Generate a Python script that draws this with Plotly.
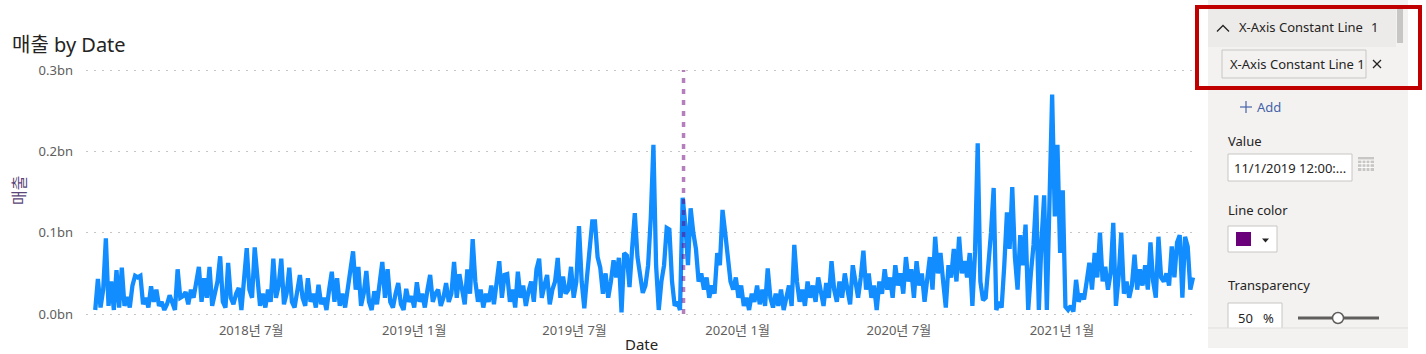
import plotly.graph_objects as go
import pandas as pd

# ---------------- data ----------------
start_date = "2018-01-06"
step_days = 3
# 매출 (millions KRW), one reading every 3 days
sales_m = [
    5, 43, 8, 30, 93, 10, 40, 5, 54, 8,
    57, 10, 21, 8, 35, 47, 45, 47, 12, 20,
    8, 34, 15, 30, 10, 15, 5, 12, 23, 15,
    5, 55, 20, 22, 27, 12, 30, 20, 40, 58,
    15, 44, 20, 58, 10, 25, 40, 71, 15, 8,
    63, 20, 12, 25, 32, 5, 40, 81, 30, 20,
    82, 40, 10, 25, 8, 30, 15, 68, 20, 35,
    68, 12, 25, 57, 15, 8, 30, 48, 20, 10,
    44, 15, 25, 8, 36, 12, 20, 5, 30, 52,
    15, 44, 10, 25, 8, 30, 50, 77, 30, 58,
    10, 25, 53, 15, 5, 28, 12, 40, 64, 20,
    55, 15, 8, 25, 38, 12, 5, 31, 15, 22,
    8, 39, 15, 25, 8, 30, 48, 15, 25, 30,
    10, 20, 38, 15, 25, 64, 20, 49, 30, 12,
    55, 25, 92, 40, 15, 30, 8, 25, 15, 35,
    12, 40, 65, 20, 48, 49, 15, 30, 8, 52,
    20, 35, 10, 28, 40, 15, 55, 68, 20, 35,
    48, 12, 30, 40, 69, 20, 46, 25, 30, 58,
    20, 40, 108, 40, 7, 45, 79, 114, 114, 70,
    57, 25, 50, 20, 40, 66, 45, 69, 2, 75,
    72, 33, 81, 124, 70, 48, 26, 35, 60, 118,
    208, 60, 5, 40, 60, 106, 104, 40, 10, 15,
    5, 143, 110, 60, 130, 100, 80, 40, 50, 30,
    45, 20, 35, 25, 75, 60, 128, 100, 70, 40,
    30, 45, 20, 35, 10, 20, 5, 25, 15, 35,
    12, 30, 10, 56, 20, 8, 25, 10, 30, 5,
    20, 35, 10, 85, 40, 15, 30, 10, 40, 20,
    35, 15, 45, 25, 10, 38, 20, 65, 30, 15,
    40, 20, 50, 30, 12, 60, 35, 20, 45, 78,
    30, 50, 20, 35, 5, 40, 25, 55, 30, 45,
    20, 60, 35, 50, 25, 70, 40, 55, 20, 65,
    35, 50, 15, 45, 70, 30, 95, 50, 75, 40,
    8, 60, 45, 80, 40, 95, 50, 65, 45, 75,
    10, 77, 210, 40, 17, 20, 54, 100, 155, 5,
    15, 8, 60, 125, 80, 156, 70, 30, 97, 60,
    110, 5, 50, 85, 146, 5, 90, 146, 5, 171,
    270, 120, 208, 75, 152, 9, 5, 10, 3, 42,
    15, 25, 18, 40, 63, 30, 75, 45, 100, 40,
    58, 30, 50, 112, 10, 45, 100, 25, 40, 20,
    35, 73, 30, 55, 35, 60, 30, 88, 40, 20,
    95, 45, 40, 50, 35, 83, 45, 88, 97, 20,
    95, 83, 30, 45,
]
dates = pd.date_range(start_date, periods=len(sales_m), freq=f"{step_days}D")
sales_bn = [v / 1000 for v in sales_m]

x_tick_dates = ["2018-07-01", "2019-01-01", "2019-07-01", "2020-01-01", "2020-07-01", "2021-01-01"]
x_tick_labels = ["2018년 7월", "2019년 1월", "2019년 7월", "2020년 1월", "2020년 7월", "2021년 1월"]
y_tick_vals = [0, 0.1, 0.2, 0.3]
y_tick_labels = ["0.0bn", "0.1bn", "0.2bn", "0.3bn"]
constant_line_date = "2019-11-01"

# ---------------- layout helpers ----------------
W, H = 1426, 354
FONT = "Segoe UI, 'Noto Sans', 'Noto Sans CJK KR', sans-serif"


def px(x):
    return x / W


def py(y):
    return 1 - y / H


fig = go.Figure()
fig.add_trace(go.Scatter(
    x=dates, y=sales_bn, mode="lines",
    line=dict(color="#118DFF", width=4.3),
    hoverinfo="skip", showlegend=False,
))

plot_left, plot_right = 86, 1197
plot_top, plot_bottom = 61.9, 318.5

fig.update_layout(
    width=W, height=H,
    margin=dict(l=0, r=0, t=0, b=0),
    paper_bgcolor="white", plot_bgcolor="white",
    font=dict(family=FONT, color="#605E5C"),
    title=dict(text="매출 by Date", x=px(12), xanchor="left", xref="paper",
               y=py(45), yanchor="middle", yref="paper",
               font=dict(size=20, color="#252423", family=FONT)),
    xaxis=dict(
        domain=[px(plot_left), px(plot_right)],
        range=["2017-12-26 14:00", "2021-06-02 12:00"],
        type="date",
        tickvals=x_tick_dates, ticktext=x_tick_labels,
        showgrid=False, showline=False, zeroline=False, ticks="",
        ticklabelstandoff=2,
        tickfont=dict(size=13, color="#605E5C"),
        automargin=False,
    ),
    yaxis=dict(
        domain=[py(plot_bottom), py(plot_top)],
        range=[-0.0055, 0.31],
        tickvals=y_tick_vals, ticktext=y_tick_labels,
        showgrid=True, gridcolor="#C8C6C4", gridwidth=1.4, griddash="2px,6px",
        zeroline=False, showline=False, ticks="",
        ticklabelstandoff=12,
        tickfont=dict(size=13, color="#605E5C"),
        title=dict(text="매출", font=dict(size=16, color="#5A4578"), standoff=8),
        automargin=False,
    ),
)

# constant line
fig.add_shape(type="line", xref="x", yref="y",
              x0=constant_line_date, x1=constant_line_date, y0=0, y1=0.3,
              line=dict(color="rgba(107,0,123,0.5)", width=3.5, dash="5px,6px"),
              layer="above")

# ---------------- format pane ----------------
shapes = []


def rect(x0, y0, x1, y1, fill=None, line=None, lw=1):
    shapes.append(dict(type="rect", xref="paper", yref="paper",
                       x0=px(x0), x1=px(x1), y0=py(y1), y1=py(y0),
                       fillcolor=fill or "rgba(0,0,0,0)",
                       line=dict(color=line or "rgba(0,0,0,0)", width=lw if line else 0),
                       layer="above"))


def seg(x0, y0, x1, y1, color, lw):
    shapes.append(dict(type="line", xref="paper", yref="paper",
                       x0=px(x0), x1=px(x1), y0=py(y0), y1=py(y1),
                       line=dict(color=color, width=lw), layer="above"))


def path(points, color=None, fill=None, lw=1.2, closed=False):
    d = "M " + " L ".join(f"{px(a)} {py(b)}" for a, b in points)
    if closed:
        d += " Z"
    shapes.append(dict(type="path", xref="paper", yref="paper", path=d,
                       fillcolor=fill or "rgba(0,0,0,0)",
                       line=dict(color=color or "rgba(0,0,0,0)", width=lw if color else 0),
                       layer="above"))


rect(1208, 0, 1408, 348, fill="#F3F2F1")
rect(1208, 7, 1396, 47, fill="#EDEBE9")
rect(1397, 7, 1403, 43, fill="#C8C6C4")
path([(1217, 31.5), (1223, 25.5), (1229, 31.5)], color="#252423", lw=1.3)
rect(1222, 50, 1366, 78, fill="#F3F2F1", line="#C8C6C4", lw=1)
seg(1373, 60, 1381, 68, "#252423", 1.2)
seg(1373, 68, 1381, 60, "#252423", 1.2)
rect(1228, 154, 1352, 181, fill="white", line="#C8C6C4", lw=1)
# calendar icon
rect(1358, 157, 1374, 171, fill="#C8C6C4")
for gx in (1362, 1366, 1370):
    seg(gx, 160, gx, 171, "white", 1)
for gy in (160, 163.7, 167.4):
    seg(1358, gy, 1374, gy, "white", 1)
rect(1228, 226, 1277, 252, fill="white", line="#C8C6C4", lw=1)
rect(1236, 232, 1251, 246, fill="#6B007B")
path([(1262, 238.5), (1269, 238.5), (1265.5, 242.5)], fill="#252423", closed=True)
rect(1228, 303, 1282, 332, fill="white", line="#C8C6C4", lw=1)
seg(1298, 318, 1379, 318, "#605E5C", 3)
shapes.append(dict(type="circle", xref="paper", yref="paper",
                   x0=px(1332.5), x1=px(1343.5), y0=py(323.5), y1=py(312.5),
                   fillcolor="white", line=dict(color="#605E5C", width=1.5), layer="above"))
rect(1208, 328, 1408, 348, fill="#F3F2F1")
seg(1208, 328, 1408, 328, "#E1DFDD", 1)
# "+" of Add
seg(1240, 107, 1252, 107, "#4563A8", 1.2)
seg(1246, 101, 1246, 113, "#4563A8", 1.2)
# red highlight box
rect(1197, 7, 1420, 88, line="#C00000", lw=4)

fig.update_layout(shapes=list(fig.layout.shapes) + shapes)


def label(x, y, text, size=13, color="#252423", anchor="left"):
    fig.add_annotation(xref="paper", yref="paper", x=px(x), y=py(y), text=text,
                       showarrow=False, xanchor=anchor, yanchor="middle",
                       font=dict(size=size, color=color, family=FONT))


# x-axis title, kept just inside the bottom edge
label(641, 344, "Date", size=15, anchor="center")

label(1237, 27, "X-Axis Constant Line")
label(1374, 27, "1", anchor="center")
label(1228, 64, "X-Axis Constant Line 1")
label(1255, 107, "Add", color="#4563A8")
label(1226, 141, "Value")
label(1232, 168, "11/1/2019 12:00:...")
label(1226, 210, "Line color")
label(1226, 285, "Transparency")
label(1245, 318, "50", anchor="center")
label(1268, 318, "%", anchor="center")

fig.write_html("out.html")
